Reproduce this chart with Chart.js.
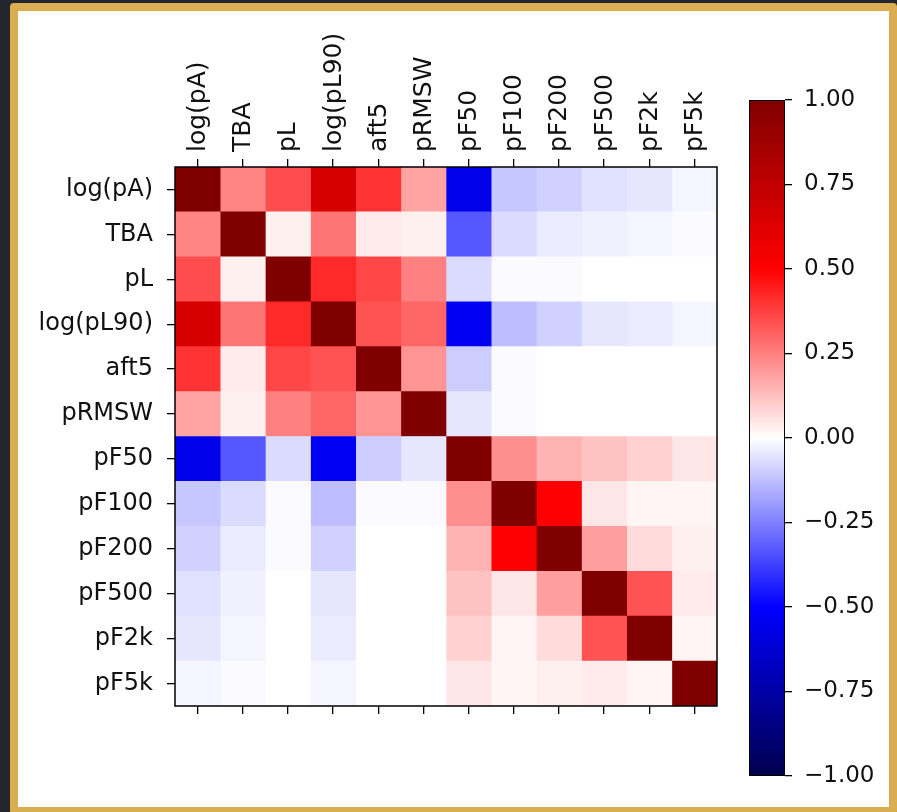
<!DOCTYPE html>
<html>
<head>
<meta charset="utf-8">
<script src="https://cdn.jsdelivr.net/npm/chart.js@4.4.1/dist/chart.umd.min.js"></script>
<style>
html, body { margin: 0; padding: 0; background: #24262e; width: 897px; height: 812px; overflow: hidden; }
#frame { position: absolute; left: 10px; top: 3px; width: 871px; height: 796px; background: #fff; border: 8px solid #dbad52; border-radius: 4px; }
#heat { position: absolute; left: 0; top: 0; }
#cbar { position: absolute; left: 740px; top: 50px; }
</style>
</head>
<body>
<div id="frame"></div>
<canvas id="heat" width="897" height="812"></canvas>
<canvas id="cbar" width="157" height="760"></canvas>
<script>
// variable names, same order on both axes
const labels = ['log(pA)', 'TBA', 'pL', 'log(pL90)', 'aft5', 'pRMSW', 'pF50', 'pF100', 'pF200', 'pF500', 'pF2k', 'pF5k'];

// correlation rows
const rowLogPA   = [1, 0.24, 0.35, 0.66, 0.40, 0.18, -0.56, -0.11, -0.09, -0.06, -0.05, -0.02];
const rowTBA     = [0.24, 1, 0.03, 0.27, 0.04, 0.03, -0.33, -0.07, -0.04, -0.03, -0.02, -0.01];
const rowPL      = [0.35, 0.03, 1, 0.42, 0.36, 0.25, -0.07, -0.01, -0.01, 0, 0, 0];
const rowLogPL90 = [0.66, 0.27, 0.42, 1, 0.34, 0.30, -0.53, -0.13, -0.09, -0.05, -0.04, -0.02];
const rowAft5    = [0.40, 0.04, 0.36, 0.34, 1, 0.21, -0.10, -0.01, 0, 0, 0, 0];
const rowPRMSW   = [0.18, 0.03, 0.25, 0.30, 0.21, 1, -0.05, -0.01, 0, 0, 0, 0];
const rowPF50    = [-0.56, -0.33, -0.07, -0.53, -0.10, -0.05, 1, 0.22, 0.15, 0.12, 0.09, 0.05];
const rowPF100   = [-0.11, -0.07, -0.01, -0.13, -0.01, -0.01, 0.22, 1, 0.50, 0.05, 0.02, 0.02];
const rowPF200   = [-0.09, -0.04, -0.01, -0.09, 0, 0, 0.15, 0.50, 1, 0.19, 0.07, 0.03];
const rowPF500   = [-0.06, -0.03, 0, -0.05, 0, 0, 0.12, 0.05, 0.19, 1, 0.34, 0.04];
const rowPF2k    = [-0.05, -0.02, 0, -0.04, 0, 0, 0.09, 0.02, 0.07, 0.34, 1, 0.02];
const rowPF5k    = [-0.02, -0.01, 0, -0.02, 0, 0, 0.05, 0.02, 0.03, 0.04, 0.02, 1];

const corr = [rowLogPA, rowTBA, rowPL, rowLogPL90, rowAft5, rowPRMSW,
              rowPF50, rowPF100, rowPF200, rowPF500, rowPF2k, rowPF5k];

const cbarTicks = [-1, -0.75, -0.5, -0.25, 0, 0.25, 0.5, 0.75, 1];

// matplotlib 'seismic' colormap
const seismicStops = [
    [-1,   [0, 0, 76.5]],
    [-0.5, [0, 0, 255]],
    [0,    [255, 255, 255]],
    [0.5,  [255, 0, 0]],
    [1,    [127.5, 0, 0]]
];
function rgb(c) { return 'rgb(' + c.map(Math.round).join(',') + ')'; }
function seismic(v) {
    v = Math.max(-1, Math.min(1, v));
    for (let k = 1; k < seismicStops.length; k++) {
        const [v0, c0] = seismicStops[k - 1];
        const [v1, c1] = seismicStops[k];
        if (v <= v1) {
            const t = (v - v0) / (v1 - v0);
            return rgb(c0.map((c, i) => c + (c1[i] - c) * t));
        }
    }
    return rgb(seismicStops[seismicStops.length - 1][1]);
}

const textColor = '#111';
const centerTicks = s => { s.ticks = labels.map((l, j) => ({value: j + 0.5})); };

const framePlugin = {
    id: 'frame',
    afterDatasetsDraw(chart) {
        const a = chart.chartArea, ctx = chart.ctx;
        ctx.save();
        ctx.strokeStyle = '#000';
        ctx.lineWidth = 1.5;
        ctx.strokeRect(a.left, a.top, a.right - a.left, a.bottom - a.top);
        ctx.restore();
    }
};

new Chart(document.getElementById('heat'), {
    type: 'bar',
    data: {
        labels: labels,
        datasets: labels.map((col, j) => ({
            label: col,
            data: labels.map(() => 1),
            backgroundColor: corr.map(row => seismic(row[j])),
            borderWidth: 0,
            barPercentage: 1,
            categoryPercentage: 1,
            xAxisID: 'x',
            yAxisID: 'y'
        }))
    },
    options: {
        indexAxis: 'y',
        responsive: false,
        animation: false,
        layout: {padding: {left: 0, top: 0, right: 180, bottom: 0}},
        plugins: {legend: {display: false}, tooltip: {enabled: false}},
        scales: {
            x: {
                type: 'linear', position: 'top', stacked: true, min: 0, max: 12,
                afterBuildTicks: centerTicks,
                afterFit: s => { s.height = 167; },
                ticks: {autoSkip: false, minRotation: 90, maxRotation: 90, padding: 7, labelOffset: 31,
                        color: textColor, font: {family: 'DejaVu Sans', size: 25},
                        callback: (v, i) => labels[i]},
                grid: {drawOnChartArea: false, tickLength: 8, color: '#000', lineWidth: 1.3},
                border: {display: false}
            },
            x2: {
                type: 'linear', position: 'bottom', min: 0, max: 12,
                afterBuildTicks: centerTicks,
                afterFit: s => { s.height = 106; },
                ticks: {autoSkip: false, callback: () => ''},
                grid: {drawOnChartArea: false, tickLength: 8, color: '#000', lineWidth: 1.3},
                border: {display: false}
            },
            y: {
                stacked: true, position: 'left',
                afterFit: s => { s.width = 175; },
                ticks: {padding: 14, color: textColor, font: {family: 'DejaVu Sans', size: 24}},
                grid: {drawOnChartArea: false, offset: false, tickLength: 8, color: '#000', lineWidth: 1.3},
                border: {display: false}
            }
        }
    },
    plugins: [framePlugin]
});

// colorbar
new Chart(document.getElementById('cbar'), {
    type: 'bar',
    data: {
        labels: [''],
        datasets: [{
            data: [[-1, 1]],
            backgroundColor: ctx => {
                const ch = ctx.chart;
                if (!ch.chartArea) return null;
                const y = ch.scales.y;
                const g = ch.ctx.createLinearGradient(0, y.getPixelForValue(-1), 0, y.getPixelForValue(1));
                seismicStops.forEach(([v, c]) => g.addColorStop((v + 1) / 2, rgb(c)));
                return g;
            },
            borderColor: '#000',
            borderWidth: 1.3,
            borderSkipped: false,
            barPercentage: 1,
            categoryPercentage: 1
        }]
    },
    options: {
        responsive: false,
        animation: false,
        layout: {padding: {left: 9, top: 50, right: 0, bottom: 34}},
        plugins: {legend: {display: false}, tooltip: {enabled: false}},
        scales: {
            x: {display: false},
            y: {
                position: 'right', min: -1, max: 1,
                afterBuildTicks: s => { s.ticks = cbarTicks.map(v => ({value: v})); },
                afterFit: s => { s.width = 112; },
                ticks: {padding: 12, color: textColor, font: {family: 'DejaVu Sans', size: 23},
                        callback: v => (v < 0 ? '\u2212' : '') + Math.abs(v).toFixed(2)},
                grid: {drawOnChartArea: false, tickLength: 7, color: '#000', lineWidth: 1.3},
                border: {display: false}
            }
        }
    }
});
</script>
</body>
</html>
